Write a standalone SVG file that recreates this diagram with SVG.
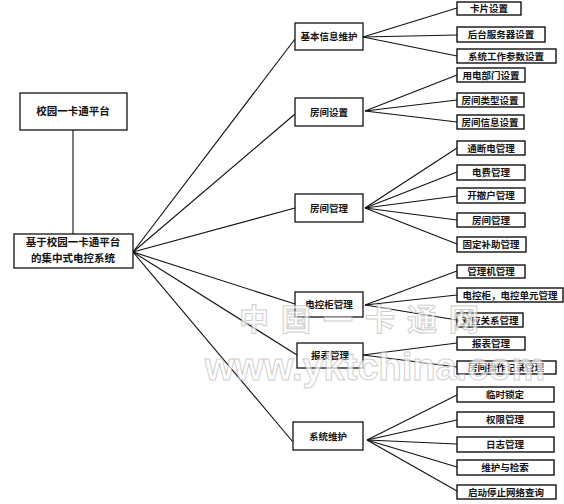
<svg xmlns="http://www.w3.org/2000/svg" width="564" height="504" viewBox="0 0 564 504">
<style>
rect.b{fill:#fff;stroke:#111;stroke-width:1.3}
rect.r{fill:#fff;stroke:#111;stroke-width:1.4}
text{font-family:"Noto Sans CJK SC","Liberation Serif",serif;fill:#111;font-weight:bold}
.m{font-size:10.5px}
.s{font-size:9.5px}
#connectors line{stroke:#111;stroke-width:1.1}
.wm{font-family:"Liberation Sans","Noto Sans CJK SC",sans-serif;fill:#fff;stroke:#bbb;stroke-width:1;opacity:0.7}
</style>
<rect width="564" height="504" fill="#fff"/>
<g id="connectors">
<line x1="73" y1="130" x2="73" y2="234"/>
<line x1="133" y1="252" x2="295" y2="39"/>
<line x1="133" y1="252" x2="295" y2="114"/>
<line x1="133" y1="252" x2="295" y2="208"/>
<line x1="133" y1="252" x2="295" y2="304"/>
<line x1="133" y1="252" x2="297" y2="355"/>
<line x1="133" y1="252" x2="293" y2="442"/>
<line x1="363" y1="37" x2="457" y2="8"/>
<line x1="363" y1="37" x2="457" y2="35"/>
<line x1="363" y1="37" x2="457" y2="56"/>
<line x1="365" y1="111" x2="457" y2="75"/>
<line x1="365" y1="111" x2="457" y2="100"/>
<line x1="365" y1="111" x2="457" y2="122"/>
<line x1="365" y1="208" x2="457" y2="148"/>
<line x1="365" y1="208" x2="457" y2="172"/>
<line x1="365" y1="208" x2="457" y2="196"/>
<line x1="365" y1="208" x2="457" y2="220"/>
<line x1="365" y1="208" x2="457" y2="244"/>
<line x1="365" y1="305" x2="457" y2="271"/>
<line x1="365" y1="305" x2="457" y2="295"/>
<line x1="365" y1="305" x2="457" y2="320"/>
<line x1="363" y1="355" x2="457" y2="343"/>
<line x1="363" y1="355" x2="457" y2="367"/>
<line x1="367" y1="440" x2="457" y2="395"/>
<line x1="367" y1="440" x2="457" y2="420"/>
<line x1="367" y1="440" x2="457" y2="444"/>
<line x1="367" y1="440" x2="457" y2="467"/>
<line x1="367" y1="440" x2="457" y2="491"/>
</g>
<g id="platform"><rect class="b" x="20" y="93" width="107" height="37"/><text class="m" x="73" y="115" text-anchor="middle">校园一卡通平台</text></g>
<g id="main"><rect class="b" x="14" y="234" width="119" height="34"/><text class="m" x="73" y="246" text-anchor="middle">基于校园一卡通平台</text><text class="m" x="73" y="262" text-anchor="middle">的集中式电控系统</text></g>
<g id="m1"><rect class="b" x="295" y="23" width="68" height="27"/><text class="s" x="329" y="40" text-anchor="middle">基本信息维护</text></g>
<g id="m2"><rect class="b" x="295" y="98" width="68" height="28"/><text class="s" x="329" y="116" text-anchor="middle">房间设置</text></g>
<g id="m3"><rect class="b" x="295" y="194" width="68" height="28"/><text class="s" x="329" y="212" text-anchor="middle">房间管理</text></g>
<g id="m4"><rect class="b" x="295" y="292" width="68" height="25"/><text class="s" x="329" y="308" text-anchor="middle">电控柜管理</text></g>
<g id="m5"><rect class="b" x="297" y="343" width="66" height="25"/><text class="s" x="330" y="359" text-anchor="middle">报表管理</text></g>
<g id="m6"><rect class="b" x="293" y="422" width="70" height="28"/><text class="s" x="328" y="440" text-anchor="middle">系统维护</text></g>
<g id="r1"><rect class="r" x="457" y="2" width="64" height="13"/><text class="s" x="489" y="12" text-anchor="middle">卡片设置</text></g>
<g id="r2"><rect class="r" x="457" y="27" width="88" height="15"/><text class="s" x="501" y="38" text-anchor="middle">后台服务器设置</text></g>
<g id="r3"><rect class="r" x="457" y="49" width="99" height="14"/><text class="s" x="506" y="60" text-anchor="middle">系统工作参数设置</text></g>
<g id="r4"><rect class="r" x="457" y="68" width="68" height="14"/><text class="s" x="491" y="79" text-anchor="middle">用电部门设置</text></g>
<g id="r5"><rect class="r" x="457" y="93" width="67" height="14"/><text class="s" x="490" y="104" text-anchor="middle">房间类型设置</text></g>
<g id="r6"><rect class="r" x="457" y="115" width="67" height="14"/><text class="s" x="490" y="126" text-anchor="middle">房间信息设置</text></g>
<g id="r7"><rect class="r" x="457" y="141" width="68" height="14"/><text class="s" x="491" y="152" text-anchor="middle">通断电管理</text></g>
<g id="r8"><rect class="r" x="457" y="165" width="68" height="15"/><text class="s" x="491" y="176" text-anchor="middle">电费管理</text></g>
<g id="r9"><rect class="r" x="457" y="188" width="68" height="15"/><text class="s" x="491" y="199" text-anchor="middle">开撤户管理</text></g>
<g id="r10"><rect class="r" x="457" y="213" width="68" height="14"/><text class="s" x="491" y="224" text-anchor="middle">房间管理</text></g>
<g id="r11"><rect class="r" x="457" y="237" width="69" height="15"/><text class="s" x="491" y="248" text-anchor="middle">固定补助管理</text></g>
<g id="r12"><rect class="r" x="457" y="265" width="68" height="13"/><text class="s" x="491" y="275" text-anchor="middle">管理机管理</text></g>
<g id="r13"><rect class="r" x="457" y="288" width="106" height="14"/><text class="s" x="510" y="299" text-anchor="middle">电控柜，电控单元管理</text></g>
<g id="r14"><rect class="r" x="457" y="313" width="66" height="14"/><text class="s" x="490" y="324" text-anchor="middle">对应关系管理</text></g>
<g id="r15"><rect class="r" x="457" y="337" width="68" height="13"/><text class="s" x="491" y="347" text-anchor="middle">报表管理</text></g>
<g id="r16"><rect class="r" x="457" y="361" width="99" height="13"/><text class="s" x="506" y="371" text-anchor="middle">房间操作记录管理</text></g>
<g id="r17"><rect class="r" x="457" y="387" width="97" height="15"/><text class="s" x="505" y="398" text-anchor="middle">临时锁定</text></g>
<g id="r18"><rect class="r" x="457" y="412" width="97" height="15"/><text class="s" x="505" y="423" text-anchor="middle">权限管理</text></g>
<g id="r19"><rect class="r" x="457" y="437" width="97" height="15"/><text class="s" x="505" y="448" text-anchor="middle">日志管理</text></g>
<g id="r20"><rect class="r" x="457" y="460" width="97" height="15"/><text class="s" x="505" y="471" text-anchor="middle">维护与检索</text></g>
<g id="r21"><rect class="r" x="457" y="485" width="99" height="14"/><text class="s" x="506" y="496" text-anchor="middle">启动停止网络查询</text></g>
<g id="watermark">
<text class="wm" x="365" y="330" font-size="30" text-anchor="middle" letter-spacing="12">中国一卡通网</text>
<text class="wm" x="375" y="380" font-size="38" font-weight="bold" text-anchor="middle">www.yktchina.com</text>
</g>
</svg>
